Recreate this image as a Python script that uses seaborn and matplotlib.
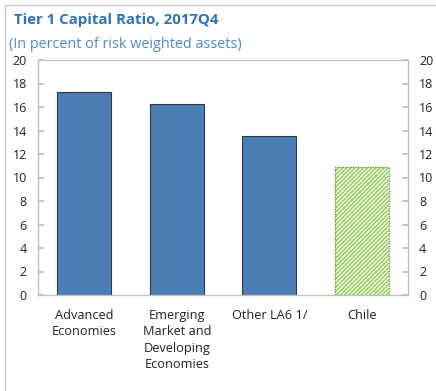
import matplotlib
matplotlib.use("Agg")
import matplotlib.pyplot as plt
import seaborn as sns
import pandas as pd
from matplotlib.patches import Rectangle
from matplotlib.lines import Line2D

categories = ["Advanced\nEconomies", "Emerging\nMarket and\nDeveloping\nEconomies", "Other LA6 1/", "Chile"]
values = [17.3, 16.25, 13.5, 10.9]

df = pd.DataFrame({"cat": categories, "val": values})

sns.set_theme(style="white")
plt.rcParams['font.family'] = ['Open Sans', 'DejaVu Sans']
plt.rcParams['hatch.color'] = 'white'
plt.rcParams['hatch.linewidth'] = 1.0

fig = plt.figure(figsize=(4.36, 3.91), dpi=100)
ax = fig.add_axes([38/436, 1 - 295/391, 370/436, 235/391])

blue = "#4A7EB5"
green = "#92CF4E"
sns.barplot(data=df, x="cat", y="val", ax=ax, color=blue, width=0.58,
            edgecolor="#2B3A4A", linewidth=0.8, saturation=1)

# Chile bar: hatched green
p = ax.patches[3]
p.set_facecolor(green)
p.set_hatch("////////")
p.set_edgecolor("white")
p.set_linewidth(0)
x0, w, h = p.get_x(), p.get_width(), p.get_height()
ax.add_patch(Rectangle((x0, 0), w, h, fill=False, edgecolor="#5E9A2A",
                       linestyle=(0, (1, 1)), linewidth=0.9, zorder=3))

ax.set_ylim(0, 20)
ax.set_xlim(-0.5, 3.5)
ax.set_yticks(range(0, 21, 2))
ax.set_xlabel("")
ax.set_ylabel("")
for s in ax.spines.values():
    s.set_color("#BFBFBF")
    s.set_linewidth(1)

ax.tick_params(axis="y", which="both", left=True, right=True, labelleft=True,
               labelright=True, direction="in", length=4, color="#BFBFBF",
               labelsize=9, pad=8, labelcolor="#222222")
ax.set_xticks([0, 1, 2, 3])
ax.set_xticklabels(categories, fontsize=9.2, color="#222222", va="top",
                   linespacing=1.35)
ax.tick_params(axis="x", length=0, pad=10)
# minor ticks between categories on the x axis
ax.set_xticks([0.5, 1.5, 2.5], minor=True)
ax.tick_params(axis="x", which="minor", direction="in", length=4, color="#BFBFBF")

fig.text(14/436, 1 - 20/391, "Tier 1 Capital Ratio, 2017Q4", fontsize=10.8,
         fontweight="bold", color="#2E74B5", va="center")
fig.text(9/436, 1 - 44/391, "(In percent of risk weighted assets)", fontsize=10.4,
         color="#4F8AC6", va="center")

# outer frame: left and top edges only
fig.lines.append(Line2D([5/436, 5/436, 1], [0, 1 - 5/391, 1 - 5/391],
                        transform=fig.transFigure, color="#C8C8C8", linewidth=1))

fig.savefig("out.png", dpi=100)
